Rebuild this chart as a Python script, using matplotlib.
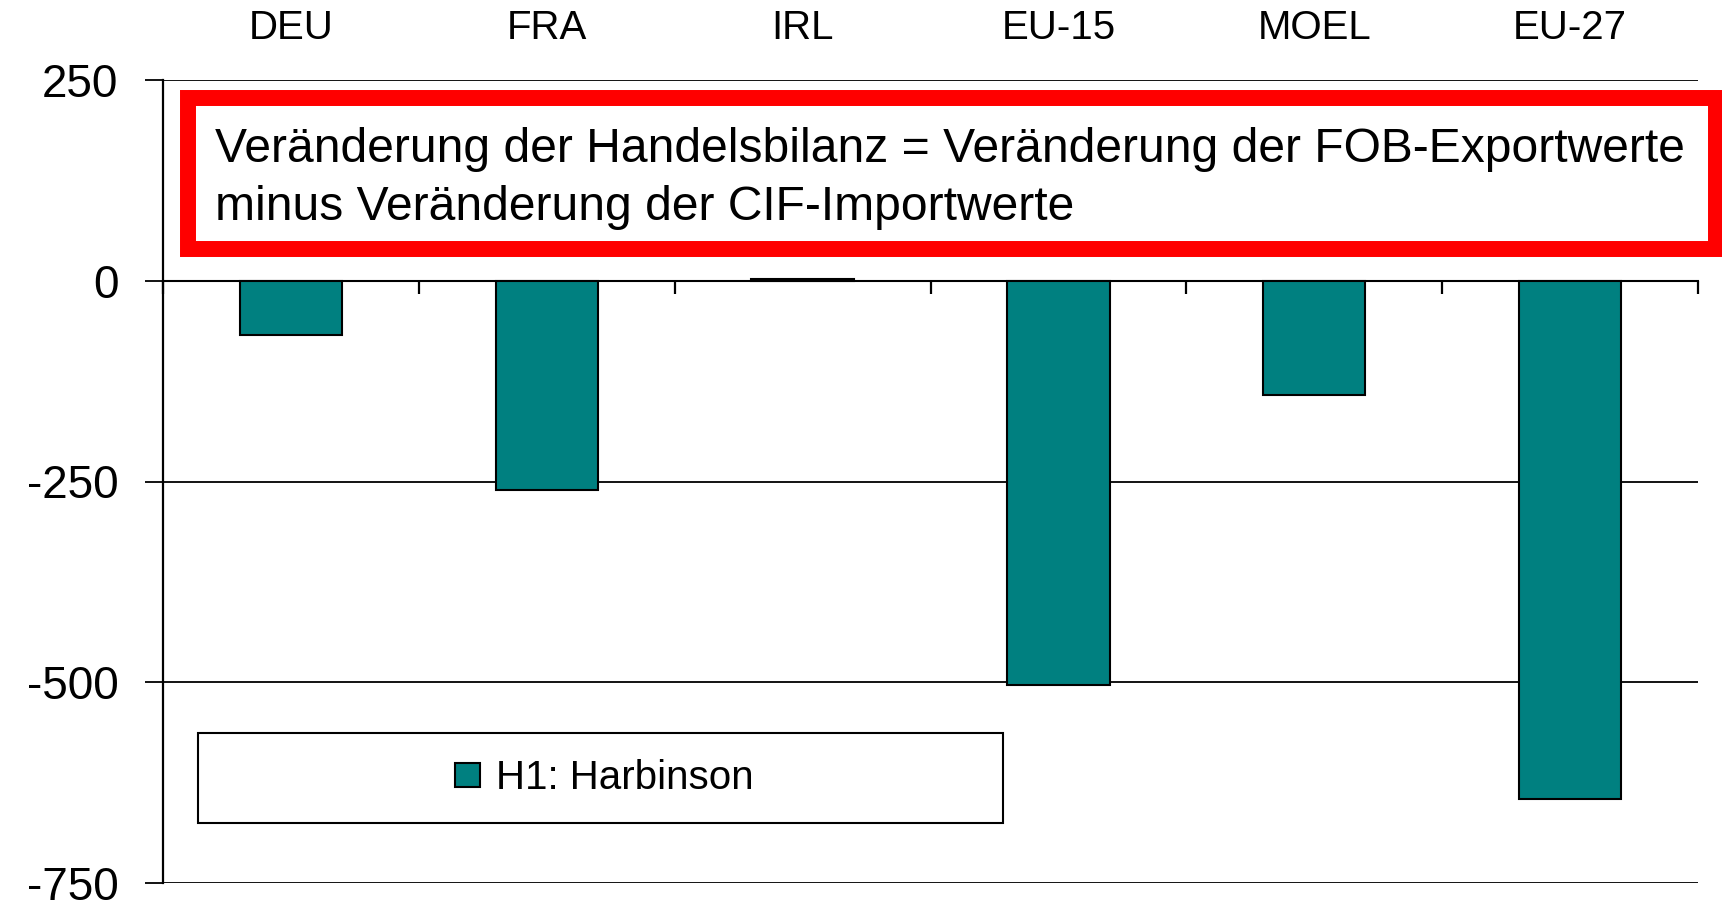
import numpy as np
import matplotlib
matplotlib.use("Agg")
import matplotlib.pyplot as plt
from matplotlib.patches import Rectangle

plt.rcParams['font.family'] = ['Liberation Sans', 'DejaVu Sans']

# data
regions = ['DEU', 'FRA', 'IRL', 'EU-15', 'MOEL', 'EU-27']
harbinson = [-68, -261, 2, -503, -142, -646]
yticks = [250, 0, -250, -500, -750]
series_label = 'H1: Harbinson'
note_lines = ['Veränderung der Handelsbilanz = Veränderung der FOB-Exportwerte',
              'minus Veränderung der CIF-Importwerte']

W, H = 1722, 901
fig = plt.figure(figsize=(W / 100, H / 100), dpi=100)

def fx(px):
    return px / W

def fy(py):
    return 1 - py / H

ax = fig.add_axes([fx(163), fy(883), fx(1698) - fx(163), fy(80) - fy(883)])

x = np.arange(len(regions)) + 0.5
bars = ax.bar(x, harbinson, width=0.4, color='#008080', edgecolor='black',
              linewidth=1.5, zorder=3, label=series_label)

ax.set_xlim(0, len(regions))
ax.set_ylim(-750, 250)

# horizontal grid lines
ax.set_yticks(yticks)
ax.set_yticklabels([str(v) for v in yticks])
ax.yaxis.grid(True, color='black', linewidth=1.3, zorder=0)
ax.tick_params(axis='y', length=13, width=1.3, pad=19, labelsize=33)

# zero line as bottom spine with separator ticks pointing down
ax.spines['bottom'].set_position(('data', 0))
ax.spines['bottom'].set_linewidth(1.5)
ax.spines['left'].set_linewidth(1.6)
ax.spines['top'].set_visible(False)
ax.spines['right'].set_visible(False)
ax.set_xticks(np.arange(len(regions) + 1))
ax.tick_params(axis='x', direction='out', length=9, width=1.6, labelbottom=False)

# category names on top
top = ax.secondary_xaxis('top')
top.set_xticks(x)
top.set_xticklabels(regions)
top.tick_params(length=0, pad=24, labelsize=29)
top.spines['top'].set_visible(False)

# red note box
fig.patches.append(Rectangle((fx(188), fy(249)), fx(1716) - fx(188), fy(98) - fy(249),
                             transform=fig.transFigure, fill=False,
                             edgecolor='#ff0000', linewidth=11.5, zorder=5))
fig.patches.append(Rectangle((fx(196), fy(241)), fx(1708) - fx(196), fy(106) - fy(241),
                             transform=fig.transFigure, facecolor='white',
                             edgecolor='none', zorder=4))
fig.text(fx(215), fy(162), note_lines[0], fontsize=34.6, va='baseline', ha='left', zorder=6)
fig.text(fx(215), fy(220), note_lines[1], fontsize=34.6, va='baseline', ha='left', zorder=6)

# legend box
fig.patches.append(Rectangle((fx(198), fy(823)), fx(1003) - fx(198), fy(733) - fy(823),
                             transform=fig.transFigure, facecolor='white',
                             edgecolor='black', linewidth=1.5, zorder=4))
leg = fig.legend(handles=[bars], labels=[series_label], loc='center',
                 bbox_to_anchor=(fx(604), fy(778)), frameon=False, fontsize=29,
                 handlelength=0.62, handleheight=0.55, handletextpad=0.4)
leg.set_zorder(7)

fig.savefig('out.png', dpi=100)
